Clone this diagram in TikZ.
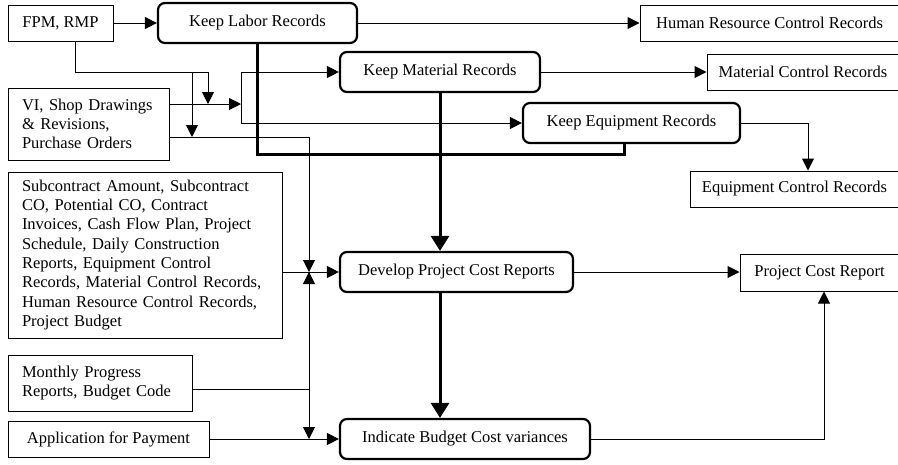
\documentclass[tikz,border=0pt]{standalone}
\usepackage{fontspec}
\setmainfont{Liberation Serif}
\usetikzlibrary{arrows.meta}

\begin{document}
\begin{tikzpicture}[x=1pt, y=-1pt,
    every node/.style={draw, rectangle, line width=1pt, inner sep=0pt, align=center,
        font=\fontsize{16.5}{19.3}\selectfont},
    proc/.style={rounded corners=7pt, line width=2.2pt},
    link/.style={line width=1pt, -{Triangle[length=12pt, width=12pt]}},
    heavy/.style={line width=3pt, -{Triangle[length=15pt, width=18pt]}},
    bus/.style={line width=3pt}]

    \useasboundingbox (0,0) rectangle (898,464);

    % inputs
    \node[minimum width=105pt, minimum height=36pt] (fpm) at (60.5,23) {FPM, RMP};
    \node[minimum width=161pt, minimum height=72pt, text width=133pt, align=left] (vi) at (88.5,124)
        {VI, Shop Drawings\\\& Revisions,\\Purchase Orders};
    \node[minimum width=274pt, minimum height=166pt, text width=246pt, align=left] (sub) at (145,255)
        {Subcontract Amount, Subcontract\\CO, Potential CO, Contract\\Invoices, Cash Flow Plan, Project\\
         Schedule, Daily Construction\\Reports, Equipment Control\\Records, Material Control Records,\\
         Human Resource Control Records,\\Project Budget};
    \node[minimum width=184pt, minimum height=56pt, text width=156pt, align=left] (mpr) at (100,383)
        {Monthly Progress\\Reports, Budget Code};
    \node[minimum width=201pt, minimum height=36pt] (app) at (108.5,439) {Application for Payment};

    % processes
    \node[proc, minimum width=199pt, minimum height=40pt] (labor) at (257.5,23) {Keep Labor Records};
    \node[proc, minimum width=200pt, minimum height=40pt] (material) at (440,72) {Keep Material Records};
    \node[proc, minimum width=217pt, minimum height=40pt] (equip) at (631.5,123) {Keep Equipment Records};
    \node[proc, minimum width=233pt, minimum height=40pt] (develop) at (456.5,272) {Develop Project Cost Reports};
    \node[proc, minimum width=250pt, minimum height=40pt] (indicate) at (465,439) {Indicate Budget Cost variances};

    % outputs
    \node[minimum width=259pt, minimum height=36pt] (hrc) at (769.5,23) {Human Resource Control Records};
    \node[minimum width=192pt, minimum height=36pt] (mcr) at (803,72) {Material Control Records};
    \node[minimum width=209pt, minimum height=36pt] (ecr) at (794.5,189) {Equipment Control Records};
    \node[minimum width=159pt, minimum height=37pt] (pcr) at (819.5,272.5) {Project Cost Report};

    % junctions
    \coordinate (fa) at (192,72);
    \coordinate (fb) at (208,72);
    \coordinate (bt) at (241,72);
    \coordinate (bb) at (241,123);
    \coordinate (vl) at (241,104);
    \coordinate (vd) at (309,137);
    \coordinate (dj) at (309,272);
    \coordinate (mj) at (309,389);
    \coordinate (ij) at (309,439);
    \coordinate (eb) at (624,154);

    % record keeping
    \draw[link] (fpm) -- (labor);
    \draw[link] (labor) -- (hrc);
    \draw[link] ([xshift=14.5pt]fpm.south) |- (fb) -- (fb |- vl);
    \draw[link] (fa) -- (fa |- vd);
    \draw[link] ([yshift=20pt]vi.east) -- (vl);
    \draw[line width=1pt] (bt) -- (bb);
    \draw[link] (bt) -- (material.west);
    \draw[link] (bb) -- (equip.west);
    \draw[link] (material) -- (mcr);
    \draw[link] (equip.east) -| ([xshift=13.5pt]ecr.north);
    \draw[bus] (labor.south) |- (eb) -- (eb |- equip.south);

    % cost reports
    \draw[link] ([yshift=-13pt]vi.east) -| (dj);
    \draw[link] (sub.east |- develop.west) -- (develop.west);
    \draw[link] ([yshift=-6pt]mpr.east) -| (dj);
    \draw[link] (mj) -- (ij);
    \draw[link] (app.east) -- (indicate.west);
    \draw[heavy] (material.south) -- (develop.north -| material.south);
    \draw[heavy] (develop.south -| material.south) -- (indicate.north -| material.south);
    \draw[link] (develop.east) -- (develop.east -| pcr.west);
    \draw[link] (indicate.east) -| ([xshift=4.5pt]pcr.south);

\end{tikzpicture}
\end{document}
